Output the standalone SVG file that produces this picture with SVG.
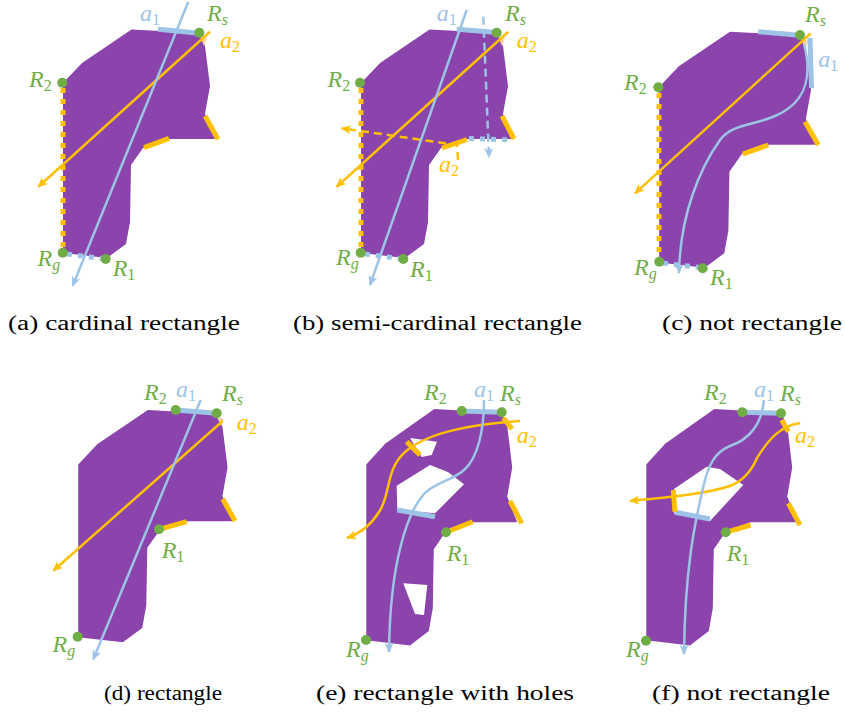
<svg xmlns="http://www.w3.org/2000/svg" xmlns:xlink="http://www.w3.org/1999/xlink" width="845" height="717" viewBox="0 0 845 717">
<style>
.shape{fill:#8B44AC}
.hole{fill:#FFFFFF}
.lb{stroke:#9DC3E6;stroke-width:2.5;fill:none}
.lo{stroke:#FFC000;stroke-width:2.5;fill:none}
.cb{stroke:#9DC3E6;stroke-width:5;fill:none}
.co{stroke:#FFC000;stroke-width:5;fill:none}
.db{stroke:#9DC3E6;stroke-width:5;stroke-dasharray:5 6;fill:none}
.do{stroke:#FFC000;stroke-width:5;stroke-dasharray:5 6;fill:none}
.dsb{stroke:#9DC3E6;stroke-width:2.5;stroke-dasharray:8 5;fill:none}
.dso{stroke:#FFC000;stroke-width:2.5;stroke-dasharray:8 5;fill:none}
.ab{marker-end:url(#arB)}
.ao{marker-end:url(#arO)}
.pt{fill:#70AD47}
.wedge{fill:#F9D49C}
.m{font-family:"Liberation Serif","Times New Roman",serif;font-style:italic;font-size:24px}
.s{font-size:16px}
.n{font-style:normal}
.g{fill:#70AD47}
.bl{fill:#9DC3E6}
.or{fill:#FFC000}
.cap{font-family:"Liberation Serif","Times New Roman",serif;font-size:20px;fill:#000}
</style>
<defs>
<marker id="arB" viewBox="0 0 10 10" refX="9" refY="5" markerWidth="10" markerHeight="10" markerUnits="userSpaceOnUse" orient="auto"><path d="M0,0.5 L10,5 L0,9.5 L2.5,5 Z" fill="#9DC3E6"/></marker>
<marker id="arO" viewBox="0 0 10 10" refX="9" refY="5" markerWidth="10" markerHeight="10" markerUnits="userSpaceOnUse" orient="auto"><path d="M0,0.5 L10,5 L0,9.5 L2.5,5 Z" fill="#FFC000"/></marker>
<path id="base" d="M131.5,29.5 L199,33 L205,46 L210,86 L205,114 L215,139 L168,139 L143,148 L131,165 L130,222 L126,244 L107,258 L63,253 L63,83 L82,63 Z"/>
</defs>

<!-- (a) -->
<g id="panel-a">
<use xlink:href="#base" href="#base" class="shape"/>
<path class="wedge" d="M200,36 L207,38 L204,46 Z"/>
<g id="connectors-a">
<line class="do" x1="63" y1="88" x2="63" y2="250"/>
<line class="db" x1="67" y1="254" x2="102" y2="258.5"/>
<line class="lo ao" x1="210" y1="31.7" x2="38.3" y2="186.7"/>
<line class="lb ab" x1="188.3" y1="1.7" x2="72.7" y2="285.7"/>
<line class="cb" x1="158" y1="29.3" x2="197" y2="33"/>
<line class="co" x1="205" y1="116" x2="218" y2="139.3"/>
<line class="co" x1="144" y1="147.7" x2="169" y2="138.3"/>
</g>
<circle class="pt" cx="199.3" cy="32.7" r="5"/>
<circle class="pt" cx="62.3" cy="82.7" r="5"/>
<circle class="pt" cx="62.7" cy="252.7" r="5"/>
<circle class="pt" cx="105.7" cy="259" r="5"/>
<text class="m bl" x="140" y="21">a<tspan class="s n" dy="4">1</tspan></text>
<text class="m g" x="207" y="21">R<tspan class="s" dy="4">s</tspan></text>
<text class="m or" x="220" y="48.3">a<tspan class="s n" dy="4">2</tspan></text>
<text class="m g" x="29" y="87.3">R<tspan class="s n" dy="4">2</tspan></text>
<text class="m g" x="37.5" y="266">R<tspan class="s" dy="4">g</tspan></text>
<text class="m g" x="112.7" y="276">R<tspan class="s n" dy="4">1</tspan></text>
<text class="cap" x="8" y="330" textLength="232" lengthAdjust="spacingAndGlyphs">(a) cardinal rectangle</text>
</g>

<!-- (b) -->
<g id="panel-b">
<use xlink:href="#base" href="#base" class="shape" transform="translate(298,0)"/>
<path class="wedge" d="M498,36 L505,38 L502,46 Z"/>
<g id="connectors-b">
<line class="do" x1="361" y1="88" x2="361" y2="250"/>
<line class="db" x1="365" y1="254" x2="400" y2="258.5"/>
<line class="db" x1="469" y1="138.5" x2="513" y2="140"/>
<path class="dso ao" d="M458,160 L457,145 L341.7,128.3"/>
<path class="dsb ab" d="M483.3,16.7 L489,157"/>
<line class="lo ao" x1="508.3" y1="31.7" x2="336.7" y2="186.7"/>
<line class="lb ab" x1="466.7" y1="10" x2="370" y2="285"/>
<line class="cb" x1="456.7" y1="29.3" x2="495" y2="32.3"/>
<line class="co" x1="502" y1="116" x2="514" y2="139"/>
<line class="co" x1="442" y1="148" x2="467" y2="139.5"/>
</g>
<circle class="pt" cx="496.7" cy="32.7" r="5"/>
<circle class="pt" cx="360" cy="82.7" r="5"/>
<circle class="pt" cx="360.7" cy="252.7" r="5"/>
<circle class="pt" cx="403.3" cy="259" r="5"/>
<text class="m bl" x="436.7" y="21">a<tspan class="s n" dy="4">1</tspan></text>
<text class="m g" x="505" y="21">R<tspan class="s" dy="4">s</tspan></text>
<text class="m or" x="516.7" y="48.3">a<tspan class="s n" dy="4">2</tspan></text>
<text class="m or" x="439" y="171.7">a<tspan class="s n" dy="4">2</tspan></text>
<text class="m g" x="327.5" y="86.7">R<tspan class="s n" dy="4">2</tspan></text>
<text class="m g" x="336" y="265">R<tspan class="s" dy="4">g</tspan></text>
<text class="m g" x="410" y="276.7">R<tspan class="s n" dy="4">1</tspan></text>
<text class="cap" x="293" y="330" textLength="289" lengthAdjust="spacingAndGlyphs">(b) semi-cardinal rectangle</text>
</g>

<!-- (c) -->
<g id="panel-c">
<use xlink:href="#base" href="#base" class="shape" transform="matrix(1.033,0,0,1.033,594.1,1.2)"/>
<path class="wedge" d="M801,38 L808,41 L805,50 Z"/>
<g id="connectors-c">
<line class="do" x1="659" y1="93" x2="659" y2="258"/>
<line class="db" x1="663" y1="263" x2="699" y2="267.5"/>
<line class="lo ao" x1="810.7" y1="33.3" x2="635" y2="193.3"/>
<path class="lb ab" d="M804,44 C812,75 808,102 775,116 C752,126 732,124 720,140 C700,168 680,215 679,273"/>
<line class="cb" x1="758.3" y1="31.7" x2="796.7" y2="35"/>
<line class="cb" x1="810" y1="38" x2="811.5" y2="88"/>
<line class="co" x1="805" y1="121.7" x2="818.3" y2="145"/>
<line class="co" x1="742.7" y1="154" x2="768.3" y2="145"/>
</g>
<circle class="pt" cx="800" cy="35" r="5"/>
<circle class="pt" cx="658.3" cy="87.3" r="5"/>
<circle class="pt" cx="659.3" cy="261.7" r="5"/>
<circle class="pt" cx="702.7" cy="268.3" r="5"/>
<text class="m g" x="805" y="22">R<tspan class="s" dy="4">s</tspan></text>
<text class="m bl" x="818.3" y="66.7">a<tspan class="s n" dy="4">1</tspan></text>
<text class="m g" x="624" y="90">R<tspan class="s n" dy="4">2</tspan></text>
<text class="m g" x="634" y="275">R<tspan class="s" dy="4">g</tspan></text>
<text class="m g" x="710" y="285">R<tspan class="s n" dy="4">1</tspan></text>
<text class="cap" x="662" y="330" textLength="180" lengthAdjust="spacingAndGlyphs">(c) not rectangle</text>
</g>

<!-- (d) -->
<g id="panel-d">
<use xlink:href="#base" href="#base" class="shape" transform="matrix(1.016,0,0,1.016,14.2,380.1)"/>
<path class="wedge" d="M217,417 L224,419 L221,426 Z"/>
<g id="connectors-d">
<line class="lo ao" x1="222.7" y1="421" x2="53.3" y2="570.7"/>
<line class="lb ab" x1="200.7" y1="400" x2="93.3" y2="659.3"/>
<line class="cb" x1="175.7" y1="410" x2="216.7" y2="413.3"/>
<line class="co" x1="222.7" y1="499" x2="235" y2="521"/>
<line class="co" x1="159" y1="529.3" x2="186.7" y2="521.7"/>
</g>
<circle class="pt" cx="175.7" cy="410" r="5"/>
<circle class="pt" cx="216.7" cy="413.3" r="5"/>
<circle class="pt" cx="159" cy="529.3" r="5"/>
<circle class="pt" cx="77.7" cy="636.7" r="5"/>
<text class="m g" x="144" y="400">R<tspan class="s n" dy="4">2</tspan></text>
<text class="m bl" x="176" y="397">a<tspan class="s n" dy="4">1</tspan></text>
<text class="m g" x="222" y="401">R<tspan class="s" dy="4">s</tspan></text>
<text class="m or" x="236.7" y="430">a<tspan class="s n" dy="4">2</tspan></text>
<text class="m g" x="161.7" y="558">R<tspan class="s n" dy="4">1</tspan></text>
<text class="m g" x="52.5" y="651.7">R<tspan class="s" dy="4">g</tspan></text>
<text class="cap" x="104" y="700" textLength="118" lengthAdjust="spacingAndGlyphs">(d) rectangle</text>
</g>

<!-- (e) -->
<g id="panel-e">
<use xlink:href="#base" href="#base" class="shape" transform="matrix(0.993,0,0,1.035,303.7,378.5)"/>
<path class="hole" d="M410,438 L437,441.7 L431.7,455 L421.7,457 Z"/>
<path class="hole" d="M396.7,485.7 L430,465 L448.3,472.3 L464,484.3 L435,513.3 L397.3,510 Z"/>
<path class="hole" d="M403.3,583.3 L427.3,585 L424,615 L415,614 Z"/>
<g id="connectors-e">
<path class="lo ao" d="M520,421 C480,424 430,430 405,452 C385,470 391,495 379,512 C371,525 361,533 347,538"/>
<path class="lb ab" d="M484,400 C484,430 478,458 464,470 C452,481 435,482 424,494 C408,512 390,560 389,652"/>
<line class="cb" x1="461.7" y1="411" x2="501.7" y2="412.3"/>
<line class="cb" x1="397.3" y1="510" x2="435" y2="516.7"/>
<line class="co" x1="503.3" y1="418" x2="512" y2="429"/>
<line class="co" x1="406.7" y1="441.7" x2="420" y2="455"/>
<line class="co" x1="510" y1="501" x2="521.7" y2="523.3"/>
<line class="co" x1="446" y1="532.3" x2="472.7" y2="521.7"/>
</g>
<circle class="pt" cx="461.7" cy="411" r="5"/>
<circle class="pt" cx="501.7" cy="412.3" r="5"/>
<circle class="pt" cx="446" cy="532.3" r="5"/>
<circle class="pt" cx="366" cy="640" r="5"/>
<text class="m g" x="424" y="400">R<tspan class="s n" dy="4">2</tspan></text>
<text class="m bl" x="474" y="397">a<tspan class="s n" dy="4">1</tspan></text>
<text class="m g" x="500" y="401">R<tspan class="s" dy="4">s</tspan></text>
<text class="m or" x="516.7" y="443">a<tspan class="s n" dy="4">2</tspan></text>
<text class="m g" x="446.7" y="560.7">R<tspan class="s n" dy="4">1</tspan></text>
<text class="m g" x="346" y="656.7">R<tspan class="s" dy="4">g</tspan></text>
<text class="cap" x="316" y="700" textLength="258" lengthAdjust="spacingAndGlyphs">(e) rectangle with holes</text>
</g>

<!-- (f) -->
<g id="panel-f">
<use xlink:href="#base" href="#base" class="shape" transform="matrix(0.993,0,0,1.035,583.7,378.5)"/>
<path class="hole" d="M674,489 L706.7,466.7 L720,469 L743.3,485 L710,521 L674,513.3 Z"/>
<g id="connectors-f">
<path class="lo ao" d="M800,423 C780,426 768,440 757,458 C752,470 745,480 730,486 C705,494 670,497 630,501"/>
<path class="lb ab" d="M764,400 C762,425 748,440 730,446 C715,452 708,465 703,488 C697,515 685,560 684,654"/>
<line class="cb" x1="742.3" y1="412.3" x2="781" y2="413.3"/>
<line class="cb" x1="675" y1="512.3" x2="710" y2="519"/>
<line class="co" x1="781.7" y1="420" x2="788.3" y2="431.7"/>
<line class="co" x1="673.3" y1="490" x2="675" y2="511.7"/>
<line class="co" x1="788.3" y1="503.3" x2="800" y2="525"/>
<line class="co" x1="725.7" y1="532.3" x2="750.7" y2="525"/>
</g>
<circle class="pt" cx="742.3" cy="412.3" r="5"/>
<circle class="pt" cx="781" cy="413.3" r="5"/>
<circle class="pt" cx="725.7" cy="532.3" r="5"/>
<circle class="pt" cx="646" cy="640.7" r="5"/>
<text class="m g" x="704" y="400">R<tspan class="s n" dy="4">2</tspan></text>
<text class="m bl" x="754" y="397">a<tspan class="s n" dy="4">1</tspan></text>
<text class="m g" x="780" y="401">R<tspan class="s" dy="4">s</tspan></text>
<text class="m or" x="795" y="443">a<tspan class="s n" dy="4">2</tspan></text>
<text class="m g" x="726.7" y="560.7">R<tspan class="s n" dy="4">1</tspan></text>
<text class="m g" x="626" y="656.7">R<tspan class="s" dy="4">g</tspan></text>
<text class="cap" x="652" y="700" textLength="178" lengthAdjust="spacingAndGlyphs">(f) not rectangle</text>
</g>
</svg>
